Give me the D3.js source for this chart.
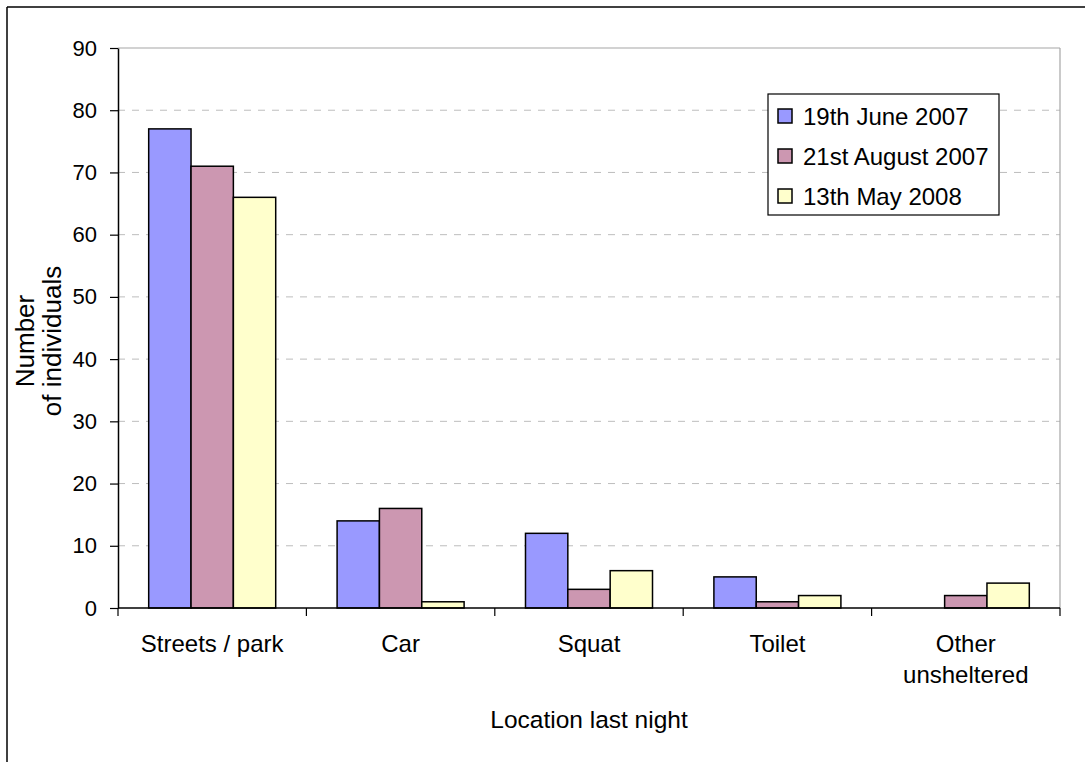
<!DOCTYPE html>
<html>
<head>
<meta charset="utf-8">
<script src="https://cdn.jsdelivr.net/npm/d3@7"></script>
<style>
  body { margin: 0; background: #fff; }
  svg text { font-family: "Liberation Sans", Arial, sans-serif; fill: #000; }
</style>
</head>
<body>
<svg width="1085" height="762"></svg>
<script>
(function () {

var categories = [["Streets / park"], ["Car"], ["Squat"], ["Toilet"], ["Other", "unsheltered"]];
var seriesNames = ["19th June 2007", "21st August 2007", "13th May 2008"];
var june2007 = [77, 14, 12, 5, 0];
var aug2007 = [71, 16, 3, 1, 2];
var may2008 = [66, 1, 6, 2, 4];
var yTicks = [0, 10, 20, 30, 40, 50, 60, 70, 80, 90];
var colors = ["#9999FF", "#CC97B1", "#FFFFCC"];

var values = [june2007, aug2007, may2008];
var catKeys = categories.map(function (c) { return c.join(" "); });

var svg = d3.select("svg");
var left = 118, right = 1060, top = 48, bottom = 608;

// outer frame (only top and left edges are visible)
svg.append("line").attr("x1", 7).attr("y1", 7).attr("x2", 1085).attr("y2", 7)
  .style("stroke", "#000").style("stroke-width", 1.5);
svg.append("line").attr("x1", 7).attr("y1", 7).attr("x2", 7).attr("y2", 762)
  .style("stroke", "#000").style("stroke-width", 1.5);

var y = d3.scaleLinear().domain([0, 90]).range([bottom, top]);
var x0 = d3.scaleBand().domain(catKeys).range([left, right]);
var x1 = d3.scaleBand().domain(d3.range(3)).range([0, x0.bandwidth()]).paddingOuter(0.725);

// grid lines
svg.append("g").selectAll("line")
  .data(yTicks.filter(function (t) { return t > 0 && t < 90; }))
  .enter().append("line")
  .attr("x1", left).attr("x2", right)
  .attr("y1", function (d) { return y(d); }).attr("y2", function (d) { return y(d); })
  .style("stroke", "#BDBDBD").style("stroke-width", 1).style("stroke-dasharray", "7,7");

// plot border top/right
svg.append("line").attr("x1", left).attr("x2", right).attr("y1", top).attr("y2", top)
  .style("stroke", "#A6A6A6").style("stroke-width", 1.2);
svg.append("line").attr("x1", right).attr("x2", right).attr("y1", top).attr("y2", bottom)
  .style("stroke", "#A6A6A6").style("stroke-width", 1.2);

// bars
var groups = svg.append("g").selectAll("g")
  .data(catKeys).enter().append("g")
  .attr("transform", function (d) { return "translate(" + x0(d) + ",0)"; });

groups.selectAll("rect")
  .data(function (d, i) { return values.map(function (s, j) { return { s: j, v: s[i] }; }); })
  .enter().append("rect")
  .filter(function (d) { return d.v > 0; })
  .attr("x", function (d) { return x1(d.s); })
  .attr("y", function (d) { return y(d.v); })
  .attr("width", x1.bandwidth())
  .attr("height", function (d) { return y(0) - y(d.v); })
  .style("fill", function (d) { return colors[d.s]; })
  .style("stroke", "#000").style("stroke-width", 1.5);

// y axis
var yAxis = svg.append("g").attr("transform", "translate(" + left + ",0)")
  .call(d3.axisLeft(y).tickValues(yTicks).tickSize(8).tickPadding(13).tickSizeOuter(0));
yAxis.select(".domain").style("stroke", "#000").style("stroke-width", 1.5);
yAxis.selectAll(".tick line").style("stroke", "#000").style("stroke-width", 1.2);
yAxis.selectAll("text").style("font-size", "22px")
  .style("font-family", "'Liberation Sans', Arial, sans-serif");

// x axis
var xAxis = svg.append("g").attr("transform", "translate(0," + bottom + ")");
xAxis.append("line").attr("x1", left).attr("x2", right).attr("y1", 0).attr("y2", 0)
  .style("stroke", "#000").style("stroke-width", 1.5);
xAxis.selectAll(".tk").data(catKeys.concat(["end"])).enter().append("line")
  .attr("x1", function (d, i) { return i < catKeys.length ? x0(d) : right; })
  .attr("x2", function (d, i) { return i < catKeys.length ? x0(d) : right; })
  .attr("y1", 0).attr("y2", 8)
  .style("stroke", "#000").style("stroke-width", 1.2);

var labels = svg.append("g").selectAll("text").data(categories).enter().append("text")
  .attr("text-anchor", "middle")
  .style("font-size", "24px");
labels.selectAll("tspan").data(function (d, i) { return d.map(function (t) { return { t: t, i: i }; }); })
  .enter().append("tspan")
  .attr("x", function (d) { return x0(catKeys[d.i]) + x0.bandwidth() / 2; })
  .attr("y", function (d, k) { return 652 + k * 31; })
  .text(function (d) { return d.t; });

// axis titles
svg.append("text").attr("x", (left + right) / 2).attr("y", 728)
  .attr("text-anchor", "middle").style("font-size", "24.5px").text("Location last night");

var yTitle = svg.append("text").attr("transform", "translate(0,341) rotate(-90)")
  .attr("text-anchor", "middle").style("font-size", "26px");
yTitle.append("tspan").attr("x", 0).attr("y", 34).text("Number");
yTitle.append("tspan").attr("x", 0).attr("y", 61).text("of individuals");

// legend
var legend = svg.append("g").attr("transform", "translate(768,94)");
legend.append("rect").attr("width", 231).attr("height", 121)
  .style("fill", "#fff").style("stroke", "#000").style("stroke-width", 1.2);
var items = legend.selectAll(".item").data(seriesNames).enter().append("g")
  .attr("transform", function (d, i) { return "translate(10," + (15 + i * 40) + ")"; });
items.append("rect").attr("width", 14).attr("height", 14)
  .style("fill", function (d, i) { return colors[i]; })
  .style("stroke", "#000").style("stroke-width", 1.5);
items.append("text").attr("x", 25).attr("y", 16).style("font-size", "24px")
  .text(function (d) { return d; });

})();
</script>
</body>
</html>
